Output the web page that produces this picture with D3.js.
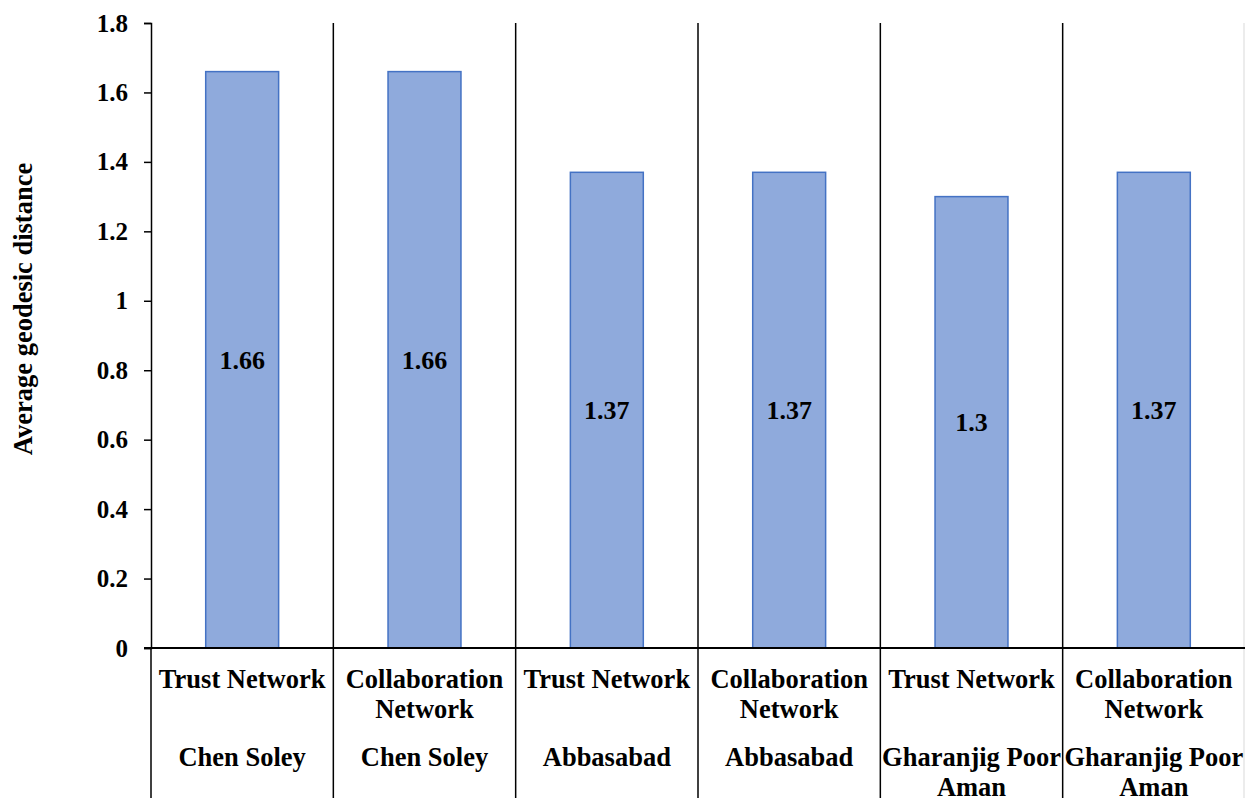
<!DOCTYPE html>
<html>
<head>
<meta charset="utf-8">
<script src="https://cdn.jsdelivr.net/npm/d3@7"></script>
<style>
  body { margin: 0; background: #fff; }
</style>
</head>
<body>
<div id="chart"></div>
<script>
const networks = ["Trust Network", "Collaboration\nNetwork", "Trust Network", "Collaboration\nNetwork", "Trust Network", "Collaboration\nNetwork"];
const villages = ["Chen Soley", "Chen Soley", "Abbasabad", "Abbasabad", "Gharanjig Poor\nAman", "Gharanjig Poor\nAman"];
const values = [1.66, 1.66, 1.37, 1.37, 1.3, 1.37];
const yTicks = [0, 0.2, 0.4, 0.6, 0.8, 1, 1.2, 1.4, 1.6, 1.8];

const width = 1245, height = 798;
const margin = {top: 23, right: 0, bottom: 150, left: 151};
const serif = "'Liberation Serif', 'Times New Roman', serif";

const svg = d3.select("#chart").append("svg")
    .attr("width", width)
    .attr("height", height)
    .style("font-family", serif)
    .style("font-weight", "bold");

const x = d3.scaleBand()
    .domain(d3.range(values.length))
    .range([margin.left, width - margin.right])
    .paddingInner(0)
    .paddingOuter(0);

const y = d3.scaleLinear()
    .domain([0, 1.8])
    .range([height - margin.bottom, margin.top]);

// y axis
const yAxis = svg.append("g")
    .attr("transform", `translate(${margin.left},0)`)
    .call(d3.axisLeft(y).tickValues(yTicks).tickSize(7).tickPadding(16).tickFormat(d => String(d)));
yAxis.attr("font-family", null).attr("font-size", null);
yAxis.select(".domain").attr("stroke", "#000").attr("stroke-width", 1.5);
yAxis.selectAll(".tick line").attr("stroke", "#000").attr("stroke-width", 1.5);
yAxis.selectAll(".tick text")
    .style("font-size", "25px")
    .style("font-family", serif)
    .style("font-weight", "bold")
    .attr("fill", "#000");

// separators between categories
svg.append("g").selectAll("line")
    .data(d3.range(1, values.length))
    .join("line")
      .attr("x1", i => x(i))
      .attr("x2", i => x(i))
      .attr("y1", margin.top)
      .attr("y2", height)
      .attr("stroke", "#000")
      .attr("stroke-width", 1.5);

// left axis extends below
svg.append("line")
    .attr("x1", margin.left).attr("x2", margin.left)
    .attr("y1", y(0)).attr("y2", height)
    .attr("stroke", "#000").attr("stroke-width", 1.5);

svg.append("line")
    .attr("x1", width - 1).attr("x2", width - 1)
    .attr("y1", margin.top).attr("y2", height)
    .attr("stroke", "#d9d9d9").attr("stroke-width", 1);

// bars
const bw = x.bandwidth() * 0.4;
svg.append("g").selectAll("rect")
    .data(values)
    .join("rect")
      .attr("x", (d, i) => x(i) + (x.bandwidth() - bw) / 2)
      .attr("y", d => y(d))
      .attr("width", bw)
      .attr("height", d => y(0) - y(d))
      .attr("fill", "#8FAADC")
      .attr("stroke", "#4472C4")
      .attr("stroke-width", 1.5);

// value labels
svg.append("g").selectAll("text")
    .data(values)
    .join("text")
      .attr("x", (d, i) => x(i) + x.bandwidth() / 2)
      .attr("y", d => (y(d) + y(0)) / 2)
      .attr("dy", "0.35em")
      .attr("text-anchor", "middle")
      .style("font-size", "26px")
      .text(d => d);

// zero line
svg.append("line")
    .attr("x1", margin.left - 7).attr("x2", width)
    .attr("y1", y(0)).attr("y2", y(0))
    .attr("stroke", "#000").attr("stroke-width", 2);

// category labels
function multiline(sel, startY) {
  sel.each(function(d) {
    const t = d3.select(this);
    d.split("\n").forEach((line, k) => {
      t.append("tspan")
        .attr("x", t.attr("x"))
        .attr("y", startY + k * 30)
        .text(line);
    });
  });
}

svg.append("g").selectAll("text")
    .data(networks)
    .join("text")
      .attr("x", (d, i) => x(i) + x.bandwidth() / 2)
      .attr("text-anchor", "middle")
      .style("font-size", "26.5px")
      .call(multiline, 688);

svg.append("g").selectAll("text")
    .data(villages)
    .join("text")
      .attr("x", (d, i) => x(i) + x.bandwidth() / 2)
      .attr("text-anchor", "middle")
      .style("font-size", "26.5px")
      .call(multiline, 766);

// y axis title
svg.append("text")
    .attr("transform", "translate(32,309) rotate(-90)")
    .attr("text-anchor", "middle")
    .style("font-size", "26.5px")
    .text("Average geodesic distance");
</script>
</body>
</html>
